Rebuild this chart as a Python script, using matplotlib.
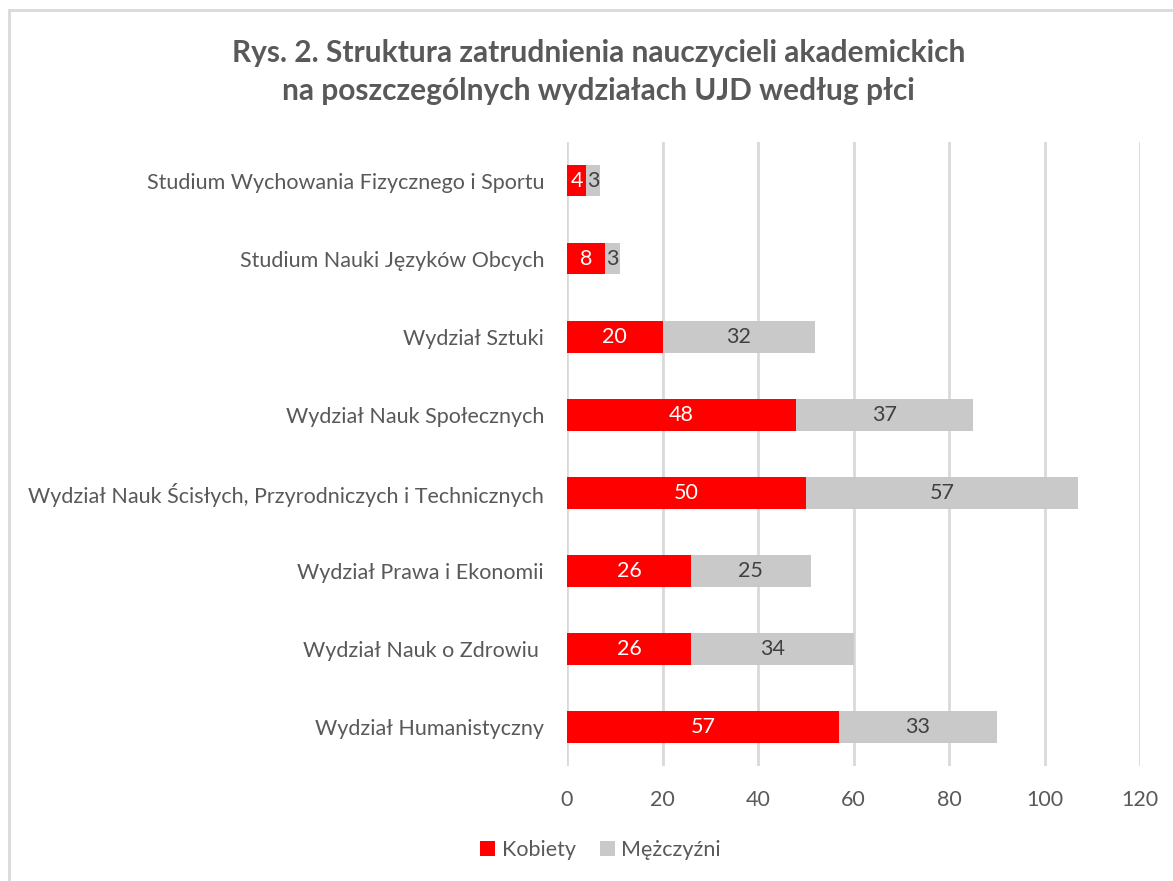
import matplotlib
matplotlib.use("Agg")
import matplotlib.pyplot as plt
from matplotlib.patches import Rectangle

plt.rcParams['font.family'] = ['Lato', 'DejaVu Sans']

# data (top to bottom as in the chart)
categories = [
    "Studium Wychowania Fizycznego i Sportu",
    "Studium Nauki Języków Obcych",
    "Wydział Sztuki",
    "Wydział Nauk Społecznych",
    "Wydział Nauk Ścisłych, Przyrodniczych i Technicznych",
    "Wydział Prawa i Ekonomii",
    "Wydział Nauk o Zdrowiu ",
    "Wydział Humanistyczny",
]
kobiety = [4, 8, 20, 48, 50, 26, 26, 57]
mezczyzni = [3, 3, 32, 37, 57, 25, 34, 33]
xticks = [0, 20, 40, 60, 80, 100, 120]

title = ("Rys. 2. Struktura zatrudnienia nauczycieli akademickich\n"
         "na poszczególnych wydziałach UJD według płci")

red = "#FF0000"
grey = "#C9C9C9"
txt = "#595959"
fs = 15.5

fig = plt.figure(figsize=(11.73, 8.81), dpi=100)
ax = fig.add_axes([0.4834, 0.1305, 0.9719 - 0.4834, 0.839 - 0.1305])

# outer chart border (Excel chart area)
fig.patches.append(Rectangle((9 / 1173, -0.1), 1.2, 1 - 10 / 881 + 0.1,
                             transform=fig.transFigure, fill=False,
                             edgecolor="#D9D9D9", linewidth=2))

y = list(range(len(categories)))[::-1]
h = 0.4
ax.barh(y, kobiety, height=h, color=red, label="Kobiety", zorder=3)
ax.barh(y, mezczyzni, left=kobiety, height=h, color=grey, label="Mężczyźni", zorder=3)

for yi, k, m in zip(y, kobiety, mezczyzni):
    ax.text(k / 2, yi, str(k), ha="center", va="center", color="white",
            fontsize=fs, zorder=4)
    ax.text(k + m / 2, yi, str(m), ha="center", va="center", color="#404040",
            fontsize=fs, zorder=4)

ax.set_xlim(0, 120)
ax.set_ylim(-0.5, len(categories) - 0.5)
ax.set_xticks(xticks)
ax.set_xticklabels([str(t) for t in xticks], fontsize=fs, color=txt)
ax.set_yticks(y)
ax.set_yticklabels(categories, fontsize=fs, color=txt)
ax.tick_params(axis="both", length=0)
ax.tick_params(axis="x", pad=17)
ax.tick_params(axis="y", pad=16.5)
ax.grid(axis="x", color="#D9D9D9", linewidth=2, zorder=0)
for s in ax.spines.values():
    s.set_visible(False)

fig.text(0.510, 1 - 72 / 881, title, ha="center", va="center", fontsize=21.5,
         fontweight="bold", color=txt, linespacing=1.45)

fig.legend(loc="center", bbox_to_anchor=(0.512, 0.035), ncol=2, frameon=False,
           fontsize=fs, handlelength=0.7, handleheight=0.7, handletextpad=0.3,
           columnspacing=1.1, labelcolor=txt)

fig.savefig("out.png", dpi=100)
